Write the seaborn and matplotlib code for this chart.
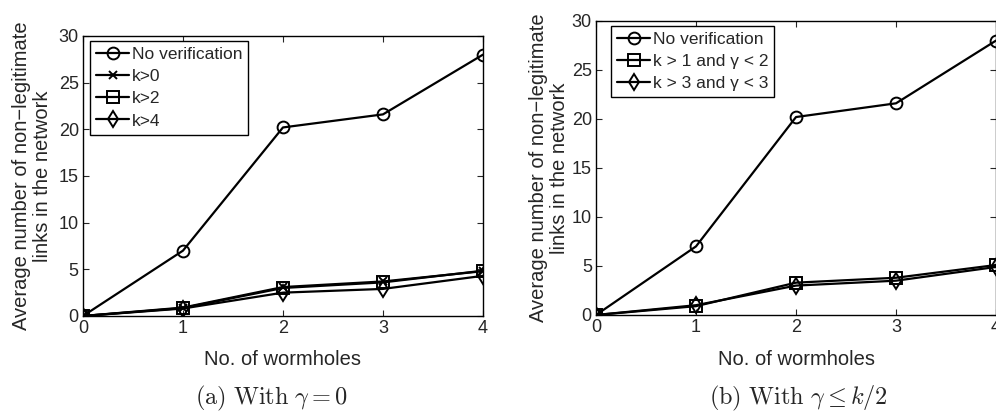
import pandas as pd
import seaborn as sns
import matplotlib
matplotlib.use("Agg")
from matplotlib import pyplot as plt

wormholes = [0, 1, 2, 3, 4]

# panel (a)
a_no_verif = [0, 7.0, 20.2, 21.6, 28.0]
a_k0 = [0, 0.9, 3.1, 3.7, 4.8]
a_k2 = [0, 0.85, 3.0, 3.6, 4.85]
a_k4 = [0, 0.8, 2.5, 2.9, 4.3]
a_labels = ["No verification", "k>0", "k>2", "k>4"]

# panel (b)
b_no_verif = [0, 7.0, 20.2, 21.6, 28.0]
b_k1 = [0, 0.9, 3.3, 3.8, 5.1]
b_k3 = [0, 1.0, 3.0, 3.5, 4.9]
b_labels = ["No verification", "k > 1 and γ < 2", "k > 3 and γ < 3"]

sns.set_style("ticks")
plt.rcParams["font.family"] = ["Liberation Sans", "DejaVu Sans"]
plt.rcParams["mathtext.fontset"] = "cm"

fig = plt.figure(figsize=(9.96, 4.15), dpi=100)
ax1 = fig.add_axes([0.0833, 0.2386, 0.4016, 0.6747])
ax2 = fig.add_axes([0.5984, 0.241, 0.4016, 0.7084])


def draw(ax, series, labels, markers, ylab_x, xlab_y, leg_anchor):
    for vals, lab, m in zip(series, labels, markers):
        df = pd.DataFrame({"x": wormholes, "y": vals})
        sns.lineplot(data=df, x="x", y="y", ax=ax, color="black", lw=1.6,
                     marker=m, markersize=8.5 if m != "x" else 6,
                     markerfacecolor="none", markeredgecolor="black",
                     markeredgewidth=1.4, label=lab)
    ax.set_xlim(0, 4)
    ax.set_ylim(0, 30)
    ax.set_xticks([0, 1, 2, 3, 4])
    ax.set_yticks([0, 5, 10, 15, 20, 25, 30])
    ax.tick_params(direction="in", top=True, right=True, labelsize=13,
                   length=4, width=0.8, pad=3)
    for s in ax.spines.values():
        s.set_visible(True)
        s.set_linewidth(1.0)
        s.set_color("black")
    ax.set_xlabel("No. of wormholes", fontsize=14.5)
    ax.set_ylabel("Average number of non\u2212legitimate\nlinks in the network",
                  fontsize=14.5, linespacing=1.15)
    ax.yaxis.set_label_coords(ylab_x, 0.5)
    ax.xaxis.set_label_coords(0.5, xlab_y)
    leg = ax.legend(loc="upper left", bbox_to_anchor=leg_anchor, fontsize=12.5,
                    handlelength=1.9, handletextpad=0.15, borderpad=0.35,
                    labelspacing=0.4, fancybox=False, edgecolor="black",
                    framealpha=1, borderaxespad=0)
    leg.get_frame().set_linewidth(1.0)


draw(ax1, [a_no_verif, a_k0, a_k2, a_k4], a_labels, ["o", "x", "s", "d"],
     -0.078, -0.12, (7 / 400, 1 - 5 / 280))
draw(ax2, [b_no_verif, b_k1, b_k3], b_labels, ["o", "s", "d"],
     -0.0675, -0.118, (15 / 400, 1 - 5 / 294))

fig.text(272 / 996, 0.04, r"$\mathrm{(a)\ With}\ \gamma = 0$", ha="center",
         va="center", fontsize=17.5)
fig.text(798 / 996, 0.04, r"$\mathrm{(b)\ With}\ \gamma \leq k/2$", ha="center",
         va="center", fontsize=17.5)

fig.savefig("out.png", dpi=100)
